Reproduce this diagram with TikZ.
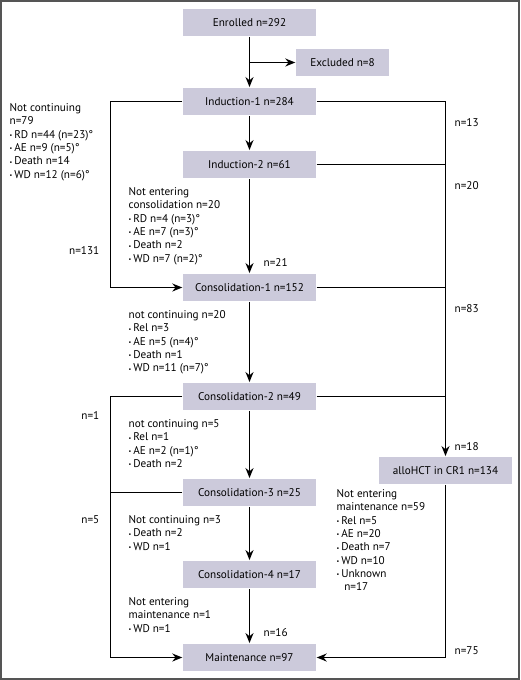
\documentclass[tikz,border=0pt]{standalone}
\usepackage{fontspec}
\setmainfont{PT Sans}
\usetikzlibrary{arrows.meta,calc,positioning}
\definecolor{boxgray}{RGB}{204,202,219}
\definecolor{framegray}{RGB}{85,85,85}
\newcommand{\bul}{{\fontsize{6}{6}\selectfont\raisebox{0.6pt}{•}}\,}

\begin{document}
\begin{tikzpicture}[x=1pt,y=-1pt,
    box/.style={fill=boxgray,minimum width=133pt,minimum height=27.5pt,inner sep=0pt},
    arr/.style={-{Stealth[length=10pt,width=8pt]}},
    note/.style={anchor=north west,align=left,inner sep=0pt},
    lbl/.style={inner sep=0pt},
    every path/.style={line width=1.4pt}]
    \fontsize{11.2}{13.3}\selectfont
    \useasboundingbox (0,0) rectangle (520,680);
    \draw[framegray,line width=2pt] (1,1) rectangle (519,679);

      \node(enrolled) at (249.5,22.5) [box] {Enrolled n=292};
      \node(excluded) at (342.5,62.5) [box,minimum width=93pt] {Excluded n=8};
      \node(ind1) at (249.5,101.5) [box] {Induction-1 n=284};
      \node(ind2) at (249.5,164.5) [box] {Induction-2 n=61};
      \node(cons1) at (249.5,287.5) [box] {Consolidation-1 n=152};
      \node(cons2) at (249.5,396.5) [box] {Consolidation-2 n=49};
      \node(cons3) at (249.5,492.5) [box] {Consolidation-3 n=25};
      \node(cons4) at (249.5,574.5) [box] {Consolidation-4 n=17};
      \node(maint) at (249.5,657.5) [box] {Maintenance n=97};
      \node(allo) at (445.5,470.5) [box] {alloHCT in CR1 n=134};

      \coordinate (lftx) at (110.5,0);
      \coordinate (rgtx) at (445.5,0);
      \coordinate (exbr) at (249.5,62.5);

      % main column
      \draw[arr] (enrolled) -- (ind1);
      \draw[arr] (exbr) -- (excluded);
      \draw[arr] (ind1) -- (ind2);
      \draw[arr] (ind2) -- (cons1);
      \draw[arr] (cons1) -- (cons2);
      \draw[arr] (cons2) -- (cons3);
      \draw[arr] (cons3) -- (cons4);
      \draw[arr] (cons4) -- (maint);

      % left bypass lines
      \draw[arr] (ind1.west) -- (ind1.west -| lftx) |- (cons1.west);
      \draw[arr] (cons2.west) -- (cons2.west -| lftx) |- (maint.west);
      \draw (cons3.west) -- (cons3.west -| lftx);

      % right side to alloHCT
      \draw (ind1.east) -- (ind1.east -| rgtx);
      \draw (ind2.east) -- (ind2.east -| rgtx);
      \draw (cons1.east) -- (cons1.east -| rgtx);
      \draw (cons2.east) -- (cons2.east -| rgtx);
      \draw[arr] (ind1.east -| rgtx) -- (allo.north);
      \draw[arr] (allo.south) |- (maint.east);

      % counts on the lines
      \node(n13) at (454,123) [lbl,anchor=west] {n=13};
      \node(n20) at (454,186) [lbl,anchor=west] {n=20};
      \node(n83) at (454,309) [lbl,anchor=west] {n=83};
      \node(n18) at (454,447) [lbl,anchor=west] {n=18};
      \node(n75) at (454,651) [lbl,anchor=west] {n=75};
      \node(n21) at (263,263) [lbl,anchor=west] {n=21};
      \node(n16) at (263,633) [lbl,anchor=west] {n=16};
      \node(n131) at (100,251) [lbl,anchor=east] {n=131};
      \node(n1) at (100,416) [lbl,anchor=east] {n=1};
      \node(n5) at (100,520) [lbl,anchor=east] {n=5};

      % reasons
      \node(t1) at (9,103) [note] {Not continuing\\n=79\\\bul RD n=44 (n=23)°\\\bul AE n=9 (n=5)°\\\bul Death n=14\\\bul WD n=12 (n=6)°};
      \node(t2) at (128,187) [note] {Not entering\\consolidation n=20\\\bul RD n=4 (n=3)°\\\bul AE n=7 (n=3)°\\\bul Death n=2\\\bul WD n=7 (n=2)°};
      \node(t3) at (128,310) [note] {not continuing n=20\\\bul Rel n=3\\\bul AE n=5 (n=4)°\\\bul Death n=1\\\bul WD n=11 (n=7)°};
      \node(t4) at (128,419) [note] {not continuing n=5\\\bul Rel n=1\\\bul AE n=2 (n=1)°\\\bul Death n=2};
      \node(t5) at (128,515) [note] {Not continuing n=3\\\bul Death n=2\\\bul WD n=1};
      \node(t6) at (128,597) [note] {Not entering\\maintenance n=1\\\bul WD n=1};
      \node(t7) at (336,489) [note] {Not entering\\maintenance n=59\\\bul Rel n=5\\\bul AE n=20\\\bul Death n=7\\\bul WD n=10\\\bul Unknown\\\phantom{\bul} n=17};
\end{tikzpicture}
\end{document}
